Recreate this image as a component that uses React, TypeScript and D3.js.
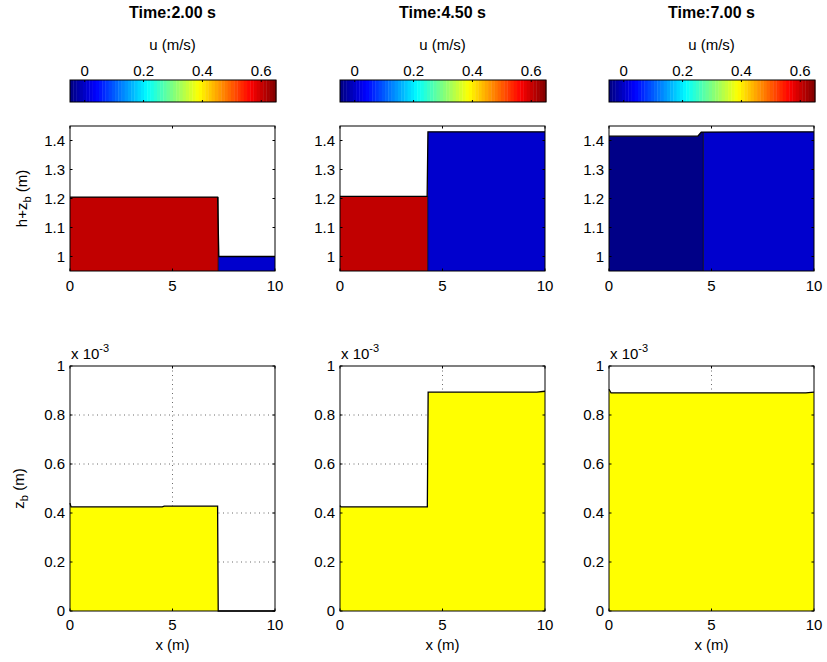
import React from "react";
import * as d3 from "d3";

// ---------- data ----------
const timeLabels = ["2.00", "4.50", "7.00"];
const xTicks = [0, 5, 10];
const etaTicks = [1, 1.1, 1.2, 1.3, 1.4];
const zbTicks = [0, 0.2, 0.4, 0.6, 0.8, 1];
const uTicks = [0, 0.2, 0.4, 0.6];
const uDomain: [number, number] = [-0.05, 0.65];
const xDomain: [number, number] = [0, 10];
const etaDomain: [number, number] = [0.95, 1.45];
const zbDomain: [number, number] = [0, 1]; // x 10^-3 m

// water surface h+zb (m) as [x, value]
const surface1: [number, number][] = [[0, 1.205], [7.2, 1.205], [7.26, 1.0], [10, 1.0]];
const surface2: [number, number][] = [[0, 1.207], [4.25, 1.207], [4.29, 1.43], [10, 1.43]];
const surface3: [number, number][] = [[0, 1.415], [4.33, 1.415], [4.5, 1.429], [10, 1.43]];

// velocity zones: edges (m) and velocity u (m/s)
const zoneEdges1 = [0, 7.23, 10];
const zoneU1 = [0.605, 0.003];
const zoneEdges2 = [0, 4.28, 10];
const zoneU2 = [0.605, 0.003];
const zoneEdges3 = [0, 4.6, 10];
const zoneU3 = [-0.045, 0.003];

// bed elevation zb (x 10^-3 m)
const bed1: [number, number][] = [[0, 0.44], [0.05, 0.425], [4.5, 0.425], [4.6, 0.428], [7.2, 0.428], [7.23, 0], [10, 0]];
const bed2: [number, number][] = [[0, 0.43], [0.05, 0.425], [4.26, 0.425], [4.3, 0.893], [9.6, 0.893], [10, 0.897]];
const bed3: [number, number][] = [[0, 0.905], [0.1, 0.89], [9.6, 0.89], [10, 0.893]];

const surfaces = [surface1, surface2, surface3];
const zoneEdges = [zoneEdges1, zoneEdges2, zoneEdges3];
const zoneU = [zoneU1, zoneU2, zoneU3];
const beds = [bed1, bed2, bed3];

// ---------- layout ----------
const W = 827;
const H = 662;
const panelLeft = [70, 340, 609];
const panelW = 205;
const topY: [number, number] = [126, 271];
const botY: [number, number] = [366, 611];
const cbY: [number, number] = [80, 102];
const FONT = "'Liberation Sans', Arial, Helvetica, sans-serif";
const FS = 15;

function jet(t: number): string {
  const c = (v: number) => Math.max(0, Math.min(1, v));
  const r = c(1.5 - Math.abs(4 * t - 3));
  const g = c(1.5 - Math.abs(4 * t - 2));
  const b = c(1.5 - Math.abs(4 * t - 1));
  return d3.rgb(r * 255, g * 255, b * 255).formatHex();
}
const uColor = (u: number) => jet((u - uDomain[0]) / (uDomain[1] - uDomain[0]));

function Panel({ i }: { i: number }) {
  const x0 = panelLeft[i];
  const x = d3.scaleLinear().domain(xDomain).range([x0, x0 + panelW]);
  const yE = d3.scaleLinear().domain(etaDomain).range([topY[1], topY[0]]);
  const yZ = d3.scaleLinear().domain(zbDomain).range([botY[1], botY[0]]);
  const cb = d3.scaleLinear().domain(uDomain).range([x0, x0 + panelW + 1]);
  const nColors = 64;
  const cbSteps = d3.range(nColors).map((k) => uDomain[0] + ((uDomain[1] - uDomain[0]) * k) / nColors);
  const step = (uDomain[1] - uDomain[0]) / nColors;

  const surfArea = d3
    .area<[number, number]>()
    .x((d) => x(d[0]))
    .y0(yE(etaDomain[0]))
    .y1((d) => yE(d[1]));
  const surfLine = d3
    .line<[number, number]>()
    .x((d) => x(d[0]))
    .y((d) => yE(d[1]));
  const bedArea = d3
    .area<[number, number]>()
    .x((d) => x(d[0]))
    .y0(yZ(0))
    .y1((d) => yZ(d[1]));
  const bedLine = d3
    .line<[number, number]>()
    .x((d) => x(d[0]))
    .y((d) => yZ(d[1]));

  const edges = zoneEdges[i];
  const us = zoneU[i];
  const tl = 2.5;

  return (
    <g fontFamily={FONT} fontSize={FS}>
      {/* title */}
      <text x={x0 + panelW / 2} y={18} textAnchor="middle" fontWeight="bold" fontSize={16}>
        {`Time:${timeLabels[i]} s`}
      </text>
      <text x={x0 + panelW / 2} y={50} textAnchor="middle">u (m/s)</text>

      {/* colorbar */}
      {cbSteps.map((u, k) => (
        <rect key={k} x={cb(u)} y={cbY[0]} width={cb(u + step) - cb(u) + 0.4} height={cbY[1] - cbY[0]} fill={uColor(u + step / 2)} />
      ))}
      <rect x={cb(uDomain[0])} y={cbY[0]} width={cb(uDomain[1]) - cb(uDomain[0])} height={cbY[1] - cbY[0]} fill="none" stroke="#000" strokeWidth={1} />
      {uTicks.map((t) => (
        <g key={t}>
          <line x1={cb(t)} x2={cb(t)} y1={cbY[0]} y2={cbY[0] + 2} stroke="#000" />
          <line x1={cb(t)} x2={cb(t)} y1={cbY[1]} y2={cbY[1] - 2} stroke="#000" />
          <text x={cb(t)} y={76} textAnchor="middle">{t === 0 ? "0" : t.toFixed(1)}</text>
        </g>
      ))}

      {/* top axes: water surface */}
      <defs>
        {edges.slice(0, -1).map((e, k) => (
          <clipPath key={k} id={`clip-${i}-${k}`}>
            <rect x={x(e)} y={topY[0]} width={x(edges[k + 1]) - x(e)} height={topY[1] - topY[0]} />
          </clipPath>
        ))}
      </defs>
      {edges.slice(0, -1).map((e, k) => (
        <path key={k} d={surfArea(surfaces[i]) || ""} fill={uColor(us[k])} clipPath={`url(#clip-${i}-${k})`} />
      ))}
      {edges.slice(1, -1).map((e, k) => (
        <line key={k} x1={x(e)} x2={x(e)} y1={topY[1]} y2={yE(d3.max(surfaces[i], (d) => (d[0] <= e ? d[1] : -Infinity)) as number)} stroke="#000" strokeWidth={0.8} />
      ))}
      <path d={surfLine(surfaces[i]) || ""} fill="none" stroke="#000" strokeWidth={1.3} />
      <rect x={x0} y={topY[0]} width={panelW} height={topY[1] - topY[0]} fill="none" stroke="#000" strokeWidth={1} />
      {xTicks.map((t) => (
        <g key={t}>
          <line x1={x(t)} x2={x(t)} y1={topY[1]} y2={topY[1] - tl} stroke="#000" />
          <line x1={x(t)} x2={x(t)} y1={topY[0]} y2={topY[0] + tl} stroke="#000" />
          <text x={x(t)} y={291} textAnchor="middle">{t}</text>
        </g>
      ))}
      {etaTicks.map((t) => (
        <g key={t}>
          <line x1={x0} x2={x0 + tl} y1={yE(t)} y2={yE(t)} stroke="#000" />
          <line x1={x0 + panelW} x2={x0 + panelW - tl} y1={yE(t)} y2={yE(t)} stroke="#000" />
          <text x={x0 - 5} y={yE(t)} dy="0.36em" textAnchor="end">{t === 1 ? "1" : t.toFixed(1)}</text>
        </g>
      ))}

      {/* bottom axes: bed */}
      {xTicks.filter((t) => t > xDomain[0] && t < xDomain[1]).map((t) => (
        <line key={t} x1={x(t)} x2={x(t)} y1={botY[0]} y2={botY[1]} stroke="#444" strokeWidth={0.8} strokeDasharray="1 3.5" />
      ))}
      {zbTicks.filter((t) => t > zbDomain[0] && t < zbDomain[1]).map((t) => (
        <line key={t} x1={x0} x2={x0 + panelW} y1={yZ(t)} y2={yZ(t)} stroke="#444" strokeWidth={0.8} strokeDasharray="1 3.5" />
      ))}
      <path d={bedArea(beds[i]) || ""} fill="#ffff00" />
      <path d={bedLine(beds[i]) || ""} fill="none" stroke="#000" strokeWidth={1.3} />
      <rect x={x0} y={botY[0]} width={panelW} height={botY[1] - botY[0]} fill="none" stroke="#000" strokeWidth={1} />
      {xTicks.map((t) => (
        <g key={t}>
          <line x1={x(t)} x2={x(t)} y1={botY[1]} y2={botY[1] - tl} stroke="#000" />
          <line x1={x(t)} x2={x(t)} y1={botY[0]} y2={botY[0] + tl} stroke="#000" />
          <text x={x(t)} y={630} textAnchor="middle">{t}</text>
        </g>
      ))}
      {zbTicks.map((t) => (
        <g key={t}>
          <line x1={x0} x2={x0 + tl} y1={yZ(t)} y2={yZ(t)} stroke="#000" />
          <line x1={x0 + panelW} x2={x0 + panelW - tl} y1={yZ(t)} y2={yZ(t)} stroke="#000" />
          <text x={x0 - 5} y={yZ(t)} dy="0.36em" textAnchor="end">{t === 0 || t === 1 ? String(t) : t.toFixed(1)}</text>
        </g>
      ))}
      <text x={x0 + 1} y={359}>
        x 10<tspan dy={-7} fontSize={11}>-3</tspan>
      </text>
      <text x={x0 + panelW / 2} y={650} textAnchor="middle">x (m)</text>

      {i === 0 && (
        <>
          <text transform={`translate(27,${(topY[0] + topY[1]) / 2}) rotate(-90)`} textAnchor="middle">
            h+z<tspan dy={4} fontSize={11}>b</tspan><tspan dy={-4}> (m)</tspan>
          </text>
          <text transform={`translate(24,${(botY[0] + botY[1]) / 2}) rotate(-90)`} textAnchor="middle">
            z<tspan dy={4} fontSize={11}>b</tspan><tspan dy={-4}> (m)</tspan>
          </text>
        </>
      )}
    </g>
  );
}

export default function App() {
  return (
    <svg width={W} height={H} viewBox={`0 0 ${W} ${H}`} style={{ position: "absolute", left: 0, top: 0, background: "#fff" }}>
      <rect x={0} y={0} width={W} height={H} fill="#fff" />
      {[0, 1, 2].map((i) => (
        <Panel key={i} i={i} />
      ))}
    </svg>
  );
}
